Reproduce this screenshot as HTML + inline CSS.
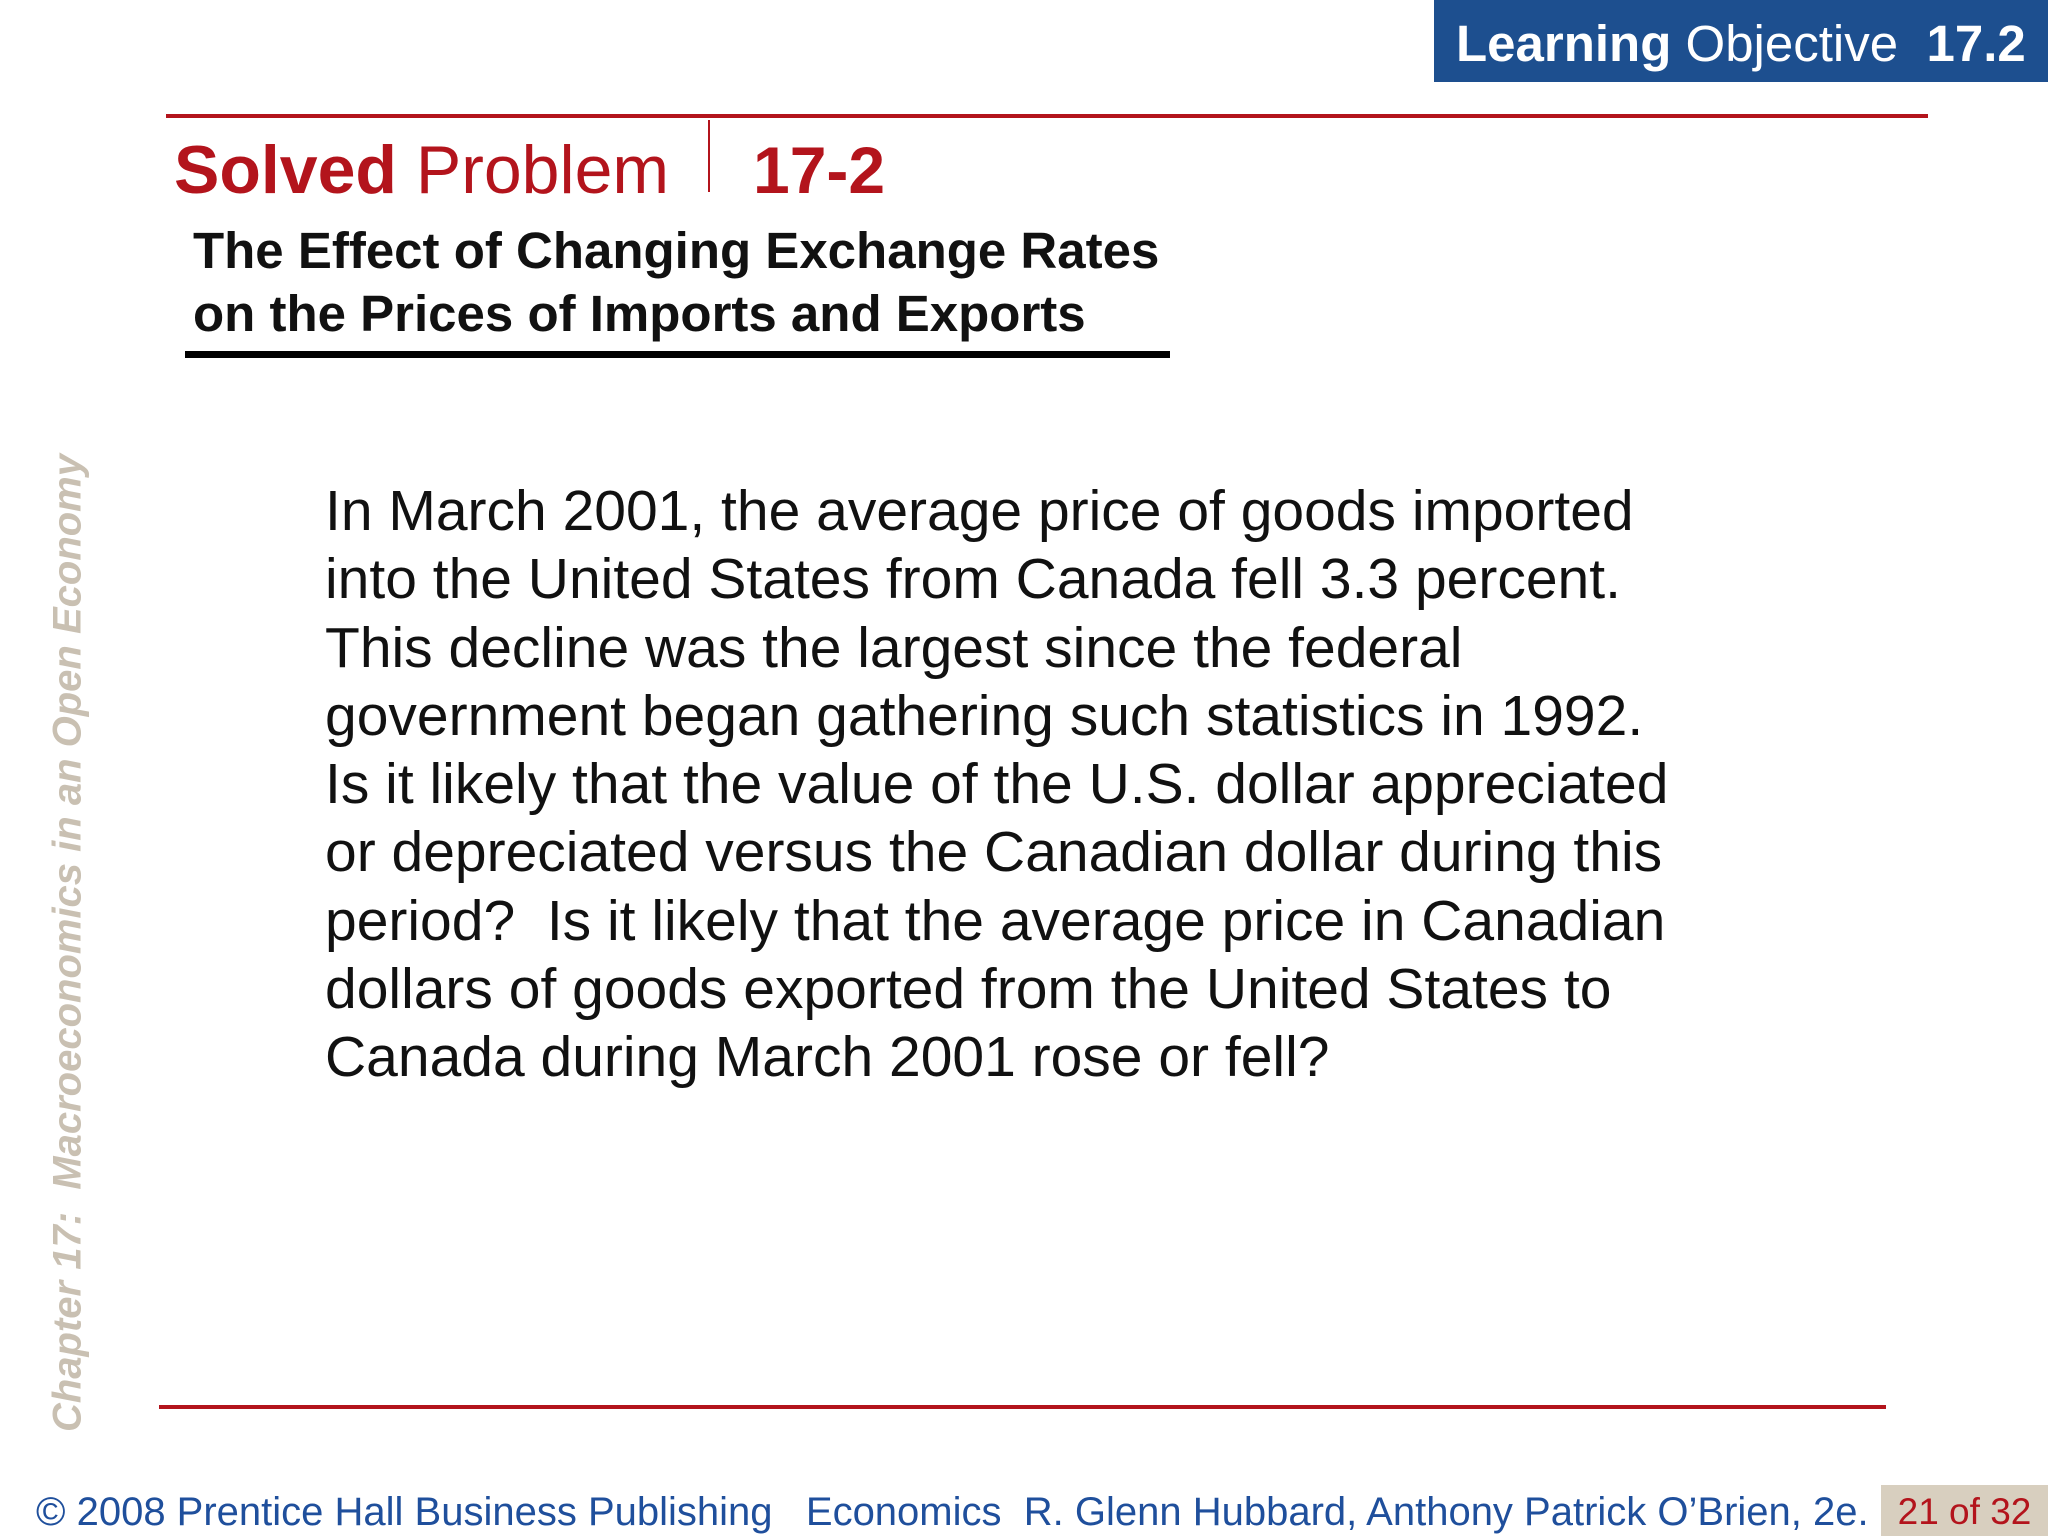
<!DOCTYPE html>
<html><head><meta charset="utf-8"><style>
body{margin:0;width:2048px;height:1536px;background:#fff;position:relative;overflow:hidden;font-family:"Liberation Sans",sans-serif}
div,span{position:absolute}
</style></head><body>
<div style="left:1434px;top:0;width:614px;height:82px;background:#1d4f8f;color:#fff;font-size:51px;line-height:88px;white-space:nowrap"><span style="left:22px;top:0"><b>Learning</b> Objective&nbsp; <b>17.2</b></span></div>
<div style="left:166px;top:114px;width:1762px;height:4px;background:#b3141c"></div>
<div style="left:174px;top:130px;font-size:68px;line-height:80px;color:#b3141c;white-space:nowrap"><b>Solved</b> Problem</div>
<div style="left:708px;top:120px;width:2px;height:72px;background:#b3141c"></div>
<div style="left:753px;top:130px;font-size:66px;line-height:80px;color:#b3141c;font-weight:bold">17-2</div>
<div style="left:193px;top:219px;font-size:51px;line-height:63px;font-weight:bold;color:#111;white-space:nowrap">The Effect of Changing Exchange Rates<br>on the Prices of Imports and Exports</div>
<div style="left:185px;top:351px;width:985px;height:7px;background:#000"></div>
<div style="left:325px;top:477px;font-size:57px;line-height:68.3px;color:#111;white-space:nowrap">In March 2001, the average price of goods imported<br>into the United States from Canada fell 3.3 percent.<br>This decline was the largest since the federal<br>government began gathering such statistics in 1992.<br>Is it likely that the value of the U.S. dollar appreciated<br>or depreciated versus the Canadian dollar during this<br>period?&nbsp; Is it likely that the average price in Canadian<br>dollars of goods exported from the United States to<br>Canada during March 2001 rose or fell?</div>
<div style="left:68px;top:943px;transform:translate(-50%,-50%) rotate(-90deg);font-size:40px;font-style:italic;font-weight:bold;color:#c9c0b2;white-space:nowrap">Chapter 17:&nbsp; Macroeconomics in an Open Economy</div>
<div style="left:159px;top:1405px;width:1727px;height:4px;background:#b3141c"></div>
<div style="left:36px;top:1489px;font-size:40px;line-height:46px;color:#1f4f9c;white-space:nowrap">© 2008 Prentice Hall Business Publishing &nbsp; Economics &nbsp;R. Glenn Hubbard, Anthony Patrick O’Brien, 2e.</div>
<div style="left:1881px;top:1485px;width:167px;height:51px;background:#d8cfbf;color:#b3141c;font-size:37px;line-height:54px;text-align:center">21 of 32</div>
</body></html>
